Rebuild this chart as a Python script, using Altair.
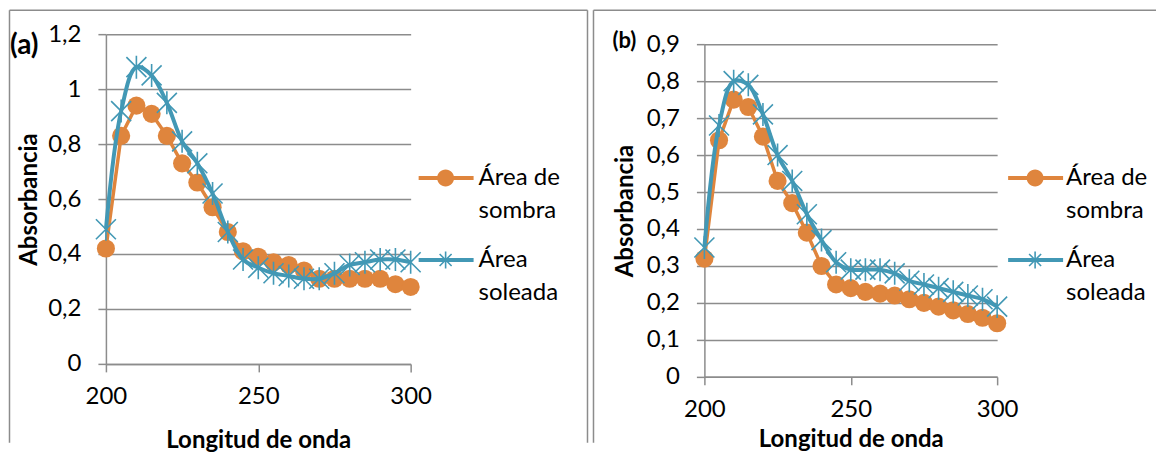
import altair as alt
import pandas as pd

# ---------------- data ----------------
wavelength = [200, 205, 210, 215, 220, 225, 230, 235, 240, 245, 250,
              255, 260, 265, 270, 275, 280, 285, 290, 295, 300]

a_sombra = [0.42, 0.83, 0.94, 0.91, 0.83, 0.73, 0.66, 0.57, 0.48, 0.41, 0.39,
            0.37, 0.36, 0.34, 0.31, 0.31, 0.31, 0.31, 0.31, 0.29, 0.28]
a_soleada = [0.49, 0.92, 1.08, 1.05, 0.95, 0.81, 0.73, 0.62, 0.48, 0.38, 0.35,
             0.33, 0.32, 0.31, 0.31, 0.33, 0.36, 0.37, 0.38, 0.38, 0.37]

b_sombra = [0.32, 0.64, 0.75, 0.73, 0.65, 0.53, 0.47, 0.39, 0.30, 0.25, 0.24,
            0.23, 0.225, 0.22, 0.21, 0.20, 0.19, 0.18, 0.17, 0.16, 0.145]
b_soleada = [0.35, 0.68, 0.80, 0.79, 0.71, 0.60, 0.53, 0.44, 0.37, 0.31, 0.29,
             0.29, 0.29, 0.28, 0.26, 0.25, 0.24, 0.23, 0.22, 0.21, 0.19]

series = ["Área de sombra", "Área soleada"]
a_yticks = [0, 0.2, 0.4, 0.6, 0.8, 1, 1.2]
b_yticks = [0, 0.1, 0.2, 0.3, 0.4, 0.5, 0.6, 0.7, 0.8, 0.9]
x_ticks = [200, 250, 300]

# ---------------- styles ----------------
ORANGE = "#DF853D"
TEAL = "#4298B5"
GRAY = "#8C8C8C"
FONT = "Lato"

# legend symbols: line + marker (unit = 10 px)
LINE = "M-2.7,-0.2H2.8V0.2H-2.7Z"
CIRCLE = "M0.85,0A0.85,0.85 0 1,1 -0.85,0A0.85,0.85 0 1,1 0.85,0Z"
STAR = ("M-0.08,-0.85H0.08V0.85H-0.08Z"
        "M-0.543,-0.657L0.657,0.543L0.543,0.657L-0.657,-0.543Z"
        "M0.657,-0.543L-0.543,0.657L-0.657,0.543L0.543,-0.657Z")
LEG_O = LINE + CIRCLE
LEG_T = LINE + STAR
ASTERISK = "M-1,-1L1,1M1,-1L-1,1M0,-1.15L0,1.15"

LABEL_EXPR = ("datum.label == 'Área de sombra' ? ['Área de', 'sombra'] "
              ": ['Área', 'soleada']")


def panel(sombra, soleada, yticks, ymax, width, height, yrange, tag, tagsize,
          tag_dx, tag_dy, ytitle_pad, xtitle_pad, leg_x, leg_y, leg_off,
          border, row_pad):
    n = len(wavelength)
    df = pd.DataFrame({
        "x": wavelength * 2,
        "y": sombra + soleada,
        "serie": [series[0]] * n + [series[1]] * n,
    })
    base = alt.Chart(df)

    x = alt.X("x:Q",
              scale=alt.Scale(domain=[200, 300], nice=False, zero=False),
              axis=alt.Axis(values=x_ticks, grid=False, title="Longitud de onda",
                            domainColor=GRAY, domainWidth=1.5,
                            tickColor=GRAY, tickWidth=1.5, tickSize=8,
                            labelFont=FONT, labelFontSize=24, labelColor="black",
                            labelPadding=13, labelFlush=False,
                            titleFont=FONT, titleFontSize=24, titleFontWeight="bold",
                            titleColor="black", titlePadding=xtitle_pad))
    y = alt.Y("y:Q",
              scale=alt.Scale(domain=[0, ymax], nice=False, zero=True, range=yrange),
              axis=alt.Axis(values=yticks, grid=True, gridColor=GRAY, gridWidth=1.5,
                            title="Absorbancia",
                            labelExpr="replace(toString(datum.value), '.', ',')",
                            domainColor=GRAY, domainWidth=1.5,
                            tickColor=GRAY, tickWidth=1.5, tickSize=8,
                            labelFont=FONT, labelFontSize=24, labelColor="black",
                            labelPadding=17,
                            titleFont=FONT, titleFontSize=24, titleFontWeight="bold",
                            titleColor="black", titlePadding=ytitle_pad))

    so = base.transform_filter(alt.datum.serie == series[0])
    sl = base.transform_filter(alt.datum.serie == series[1])

    line_o = so.mark_line(color=ORANGE, strokeWidth=3.5).encode(x=x, y=y)
    pts_o = so.mark_point(shape="circle", filled=True, color=ORANGE, size=330,
                          opacity=1).encode(x=x, y=y)
    line_t = sl.mark_line(color=TEAL, strokeWidth=4,
                          interpolate="catmull-rom").encode(x=x, y=y)
    pts_t = sl.mark_point(shape=ASTERISK, filled=False, color=TEAL, size=400,
                          strokeWidth=1.6, opacity=1).encode(x=x, y=y)

    leg = alt.Legend(title=None, orient="none", legendX=leg_x, legendY=leg_y,
                     symbolSize=400, symbolStrokeWidth=0, padding=0,
                     labelFont=FONT, labelFontSize=24, labelColor="black",
                     labelOffset=leg_off, labelLimit=400, rowPadding=row_pad,
                     labelExpr=LABEL_EXPR)
    legend_layer = base.mark_point(filled=True, clip=True, yOffset=5000,
                                   size=400, opacity=1).encode(
        x=x, y=y,
        fill=alt.Fill("serie:N", scale=alt.Scale(domain=series, range=[ORANGE, TEAL]),
                      legend=leg),
        shape=alt.Shape("serie:N", scale=alt.Scale(domain=series, range=[LEG_O, LEG_T]),
                        legend=leg),
    )

    one = alt.Chart(pd.DataFrame({"k": [0]}))
    bl, bt, br, bb = border
    rules = [
        one.mark_rule(color=GRAY, strokeWidth=1.5).encode(
            x=alt.value(bl), y=alt.value(bt), y2=alt.value(bb)),
        one.mark_rule(color=GRAY, strokeWidth=1.5).encode(
            x=alt.value(bl), x2=alt.value(br), y=alt.value(bt)),
    ]
    if tag == "(a)":
        rules.append(one.mark_rule(color=GRAY, strokeWidth=1.5).encode(
            x=alt.value(br), y=alt.value(bt), y2=alt.value(bb)))

    return alt.layer(*rules, legend_layer, line_o, pts_o, line_t, pts_t).properties(
        width=width, height=height,
        title=alt.TitleParams(tag, anchor="start", frame="group", orient="top",
                              dx=tag_dx, dy=tag_dy, baseline="middle", offset=0,
                              font=FONT, fontSize=tagsize, fontWeight="bold",
                              color="black"),
    )


def build(use_lh):
    rp = 25 if use_lh else 31
    pa = panel(a_sombra, a_soleada, a_yticks, 1.2, 305, 330, [330, 0], "(a)", 28,
               -96, 65, 6, 20, 328, 132, 21, (-96.5, -24, 482, 409), rp)
    pb = panel(b_sombra, b_soleada, b_yticks, 0.9, 293, 343, [343, 10], "(b)", 22,
               -92, 54, 9, 6, 319, 132, 19, (-111, -24, 452, 409), rp)
    ch = alt.hconcat(pa, pb, spacing=4).resolve_scale(
        fill="independent", shape="independent"
    ).resolve_legend(
        fill="independent", shape="independent"
    ).properties(
        padding={"left": 0, "top": 1, "right": 0, "bottom": 0}
    )
    if use_lh:
        ch = ch.configure(style={"guide-label": {"lineHeight": 33}})
    return ch.configure_view(stroke=None)


try:
    chart = build(True)
    chart.to_dict()
except Exception:
    chart = build(False)

chart.save("out.html", embed_options={"renderer": "svg", "actions": False})
